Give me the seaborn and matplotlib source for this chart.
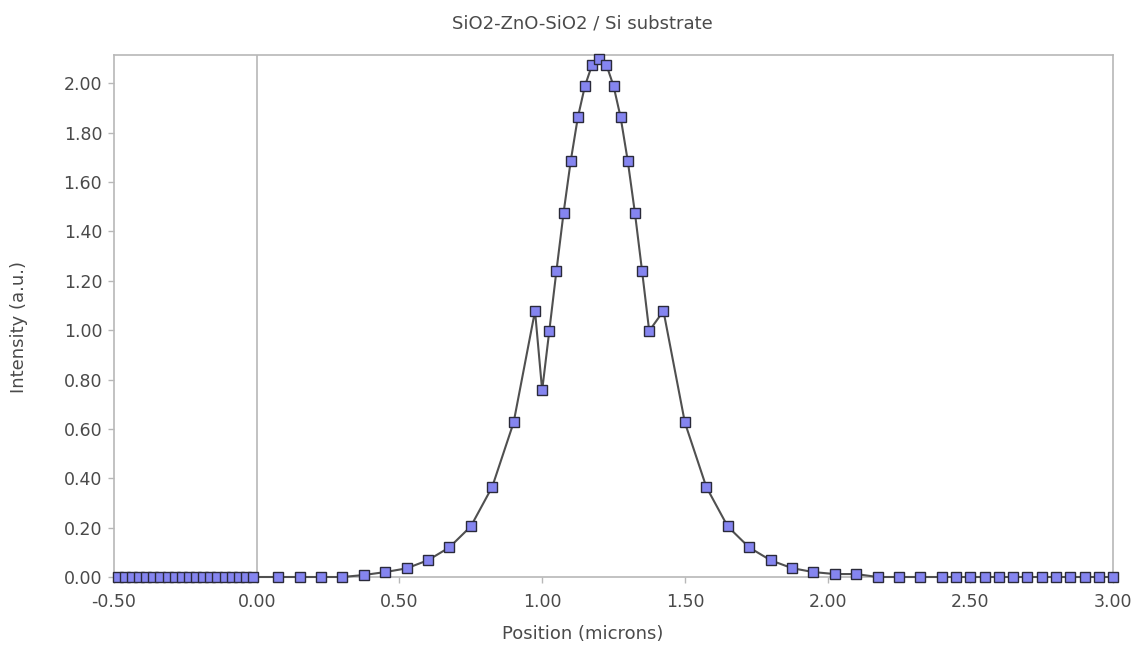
import matplotlib
matplotlib.use("Agg")
import matplotlib.pyplot as plt
import seaborn as sns
import pandas as pd

# ---- data ----
x_left = [-0.4875, -0.4625, -0.4375, -0.4125, -0.3875, -0.3625, -0.3375, -0.3125,
          -0.2875, -0.2625, -0.2375, -0.2125, -0.1875, -0.1625, -0.1375, -0.1125,
          -0.0875, -0.0625, -0.0375, -0.0125]
y_left = [0.0] * 20

x_main = [0.075, 0.15, 0.225, 0.30, 0.375, 0.45, 0.525, 0.60, 0.675, 0.75, 0.825, 0.90,
          0.975, 1.00, 1.025, 1.05, 1.075, 1.10, 1.125, 1.15, 1.175, 1.20, 1.225, 1.25,
          1.275, 1.30, 1.325, 1.35, 1.375, 1.425, 1.50, 1.575, 1.65, 1.725, 1.80, 1.875,
          1.95, 2.025, 2.10, 2.175, 2.25, 2.325, 2.40, 2.45, 2.50, 2.55, 2.60, 2.65,
          2.70, 2.75, 2.80, 2.85, 2.90, 2.95, 3.00]
y_main = [0.0, 0.0, 0.0, 0.0, 0.008, 0.02, 0.035, 0.068, 0.12, 0.205, 0.365, 0.626,
          1.078, 0.756, 0.997, 1.24, 1.475, 1.685, 1.862, 1.99, 2.075, 2.10, 2.075, 1.99,
          1.862, 1.685, 1.475, 1.24, 0.997, 1.078, 0.626, 0.365, 0.205, 0.12, 0.068, 0.036,
          0.02, 0.012, 0.012, 0.0, 0.0, 0.0, 0.0, 0.0, 0.0, 0.0, 0.0, 0.0,
          0.0, 0.0, 0.0, 0.0, 0.0, 0.0, 0.0]

x_ticks = [-0.5, 0.0, 0.5, 1.0, 1.5, 2.0, 2.5, 3.0]
y_ticks = [0.0, 0.2, 0.4, 0.6, 0.8, 1.0, 1.2, 1.4, 1.6, 1.8, 2.0]

title = "SiO2-ZnO-SiO2 / Si substrate"
xlabel = "Position (microns)"
ylabel = "Intensity (a.u.)"

df = pd.DataFrame({"pos": x_left + x_main, "inten": y_left + y_main})

sns.set_theme(style="white")
plt.rcParams["font.family"] = ["DejaVu Sans"]

fig = plt.figure(figsize=(11.41, 6.46), dpi=100)
ax = fig.add_axes([0.0999, 0.1068, 0.8756, 0.8081])

txt = "#4a4a4a"
spine_c = "#b8b8b8"
fs_tick = 12.5
fs_lab = 13

ax.axvline(0.0, color=spine_c, lw=1.2, zorder=1)

sns.lineplot(data=df, x="pos", y="inten", ax=ax, sort=False, estimator=None,
             color="#505050", lw=1.5, marker="s", markersize=7,
             markerfacecolor="#8585f0", markeredgecolor="#2a2a3a", markeredgewidth=1.0,
             zorder=3, clip_on=False)

ax.set_xlim(-0.5, 3.0)
ax.set_ylim(0.0, 2.115)
ax.set_xticks(x_ticks)
ax.set_xticklabels([f"{v:.2f}" for v in x_ticks])
ax.set_yticks(y_ticks)
ax.set_yticklabels([f"{v:.2f}" for v in y_ticks])

for s in ax.spines.values():
    s.set_color(spine_c)
    s.set_linewidth(1.2)

ax.tick_params(axis="both", which="major", direction="out", length=4, width=1,
               color=spine_c, labelcolor=txt, labelsize=fs_tick,
               bottom=True, left=True)
ax.tick_params(axis="x", pad=7.5)
ax.tick_params(axis="y", pad=4.5)

ax.set_title(title, fontsize=fs_lab, color=txt, x=0.469, y=1.0603, pad=0, va="center")
ax.set_xlabel(xlabel, fontsize=fs_lab, color=txt)
ax.set_ylabel(ylabel, fontsize=fs_lab, color=txt)
ax.xaxis.label.set_va("center")
ax.yaxis.label.set_va("center")
ax.xaxis.set_label_coords(0.469, -0.109)
ax.yaxis.set_label_coords(-0.0951, 0.478)

fig.savefig("out.png", dpi=100)
